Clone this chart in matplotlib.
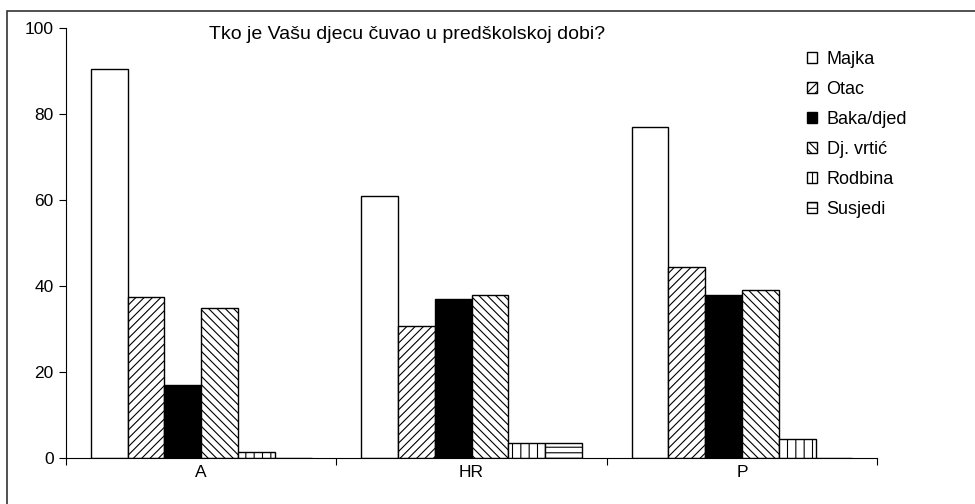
import matplotlib.pyplot as plt
import matplotlib.patches as mpatches
import numpy as np

plt.rcParams["font.family"] = ["Liberation Sans", "DejaVu Sans"]
plt.rcParams["hatch.linewidth"] = 0.8

groups = ["A", "HR", "P"]
series = ["Majka", "Otac", "Baka/djed", "Dj. vrtić", "Rodbina", "Susjedi"]

majka = [90.5, 61, 77]
otac = [37.5, 30.7, 44.5]
baka_djed = [17, 37, 38]
vrtic = [35, 38, 39]
rodbina = [1.5, 3.5, 4.3]
susjedi = [0, 3.5, 0]

values = [majka, otac, baka_djed, vrtic, rodbina, susjedi]
colors = ["white", "white", "black", "white", "white", "white"]
hatches = [None, "////", None, "\\\\\\\\", "||", "---"]

fig = plt.figure(figsize=(9.75, 5.04), dpi=100)
ax = fig.add_axes([0.0677, 0.0913, 0.832, 0.853])

x = np.arange(len(groups)) + 0.5
w = 0.136
for i, vals in enumerate(values):
    ax.bar(x + (i - 2.5) * w, vals, w, color=colors[i], edgecolor="black",
           hatch=hatches[i], linewidth=1.0, label=series[i])

ax.set_xlim(0, 3)
ax.set_ylim(0, 100)
ax.set_yticks([0, 20, 40, 60, 80, 100])
ax.set_xticks([0, 1, 2, 3], minor=False)
ax.set_xticklabels(["", "", "", ""])
ax.set_xticks(x, groups, minor=True)
ax.tick_params(axis="x", which="minor", length=0, labelsize=12.5, pad=5)
ax.tick_params(axis="x", which="major", length=5, direction="out")
ax.tick_params(axis="y", length=5, direction="out", labelsize=12.5, pad=4)
ax.spines["top"].set_visible(False)
ax.spines["right"].set_visible(False)

ax.text(0.42, 0.986, "Tko je Vašu djecu čuvao u predškolskoj dobi?",
        fontsize=14, ha="center", va="center", transform=ax.transAxes)

handles = [mpatches.Patch(facecolor=colors[i], edgecolor="black",
                          hatch=hatches[i], label=series[i]) for i in range(6)]
ax.legend(handles=handles, loc="upper left", bbox_to_anchor=(0.893, 0.985),
          frameon=False, fontsize=13, handlelength=0.6, handleheight=0.6,
          handletextpad=0.5, labelspacing=0.72)

border = mpatches.Rectangle((7 / 975, -0.1), 1.2, 1 - 11 / 504 + 0.1,
                            transform=fig.transFigure, fill=False,
                            edgecolor="#333333", linewidth=1.2)
fig.patches.append(border)

fig.savefig("out.png", dpi=100)
